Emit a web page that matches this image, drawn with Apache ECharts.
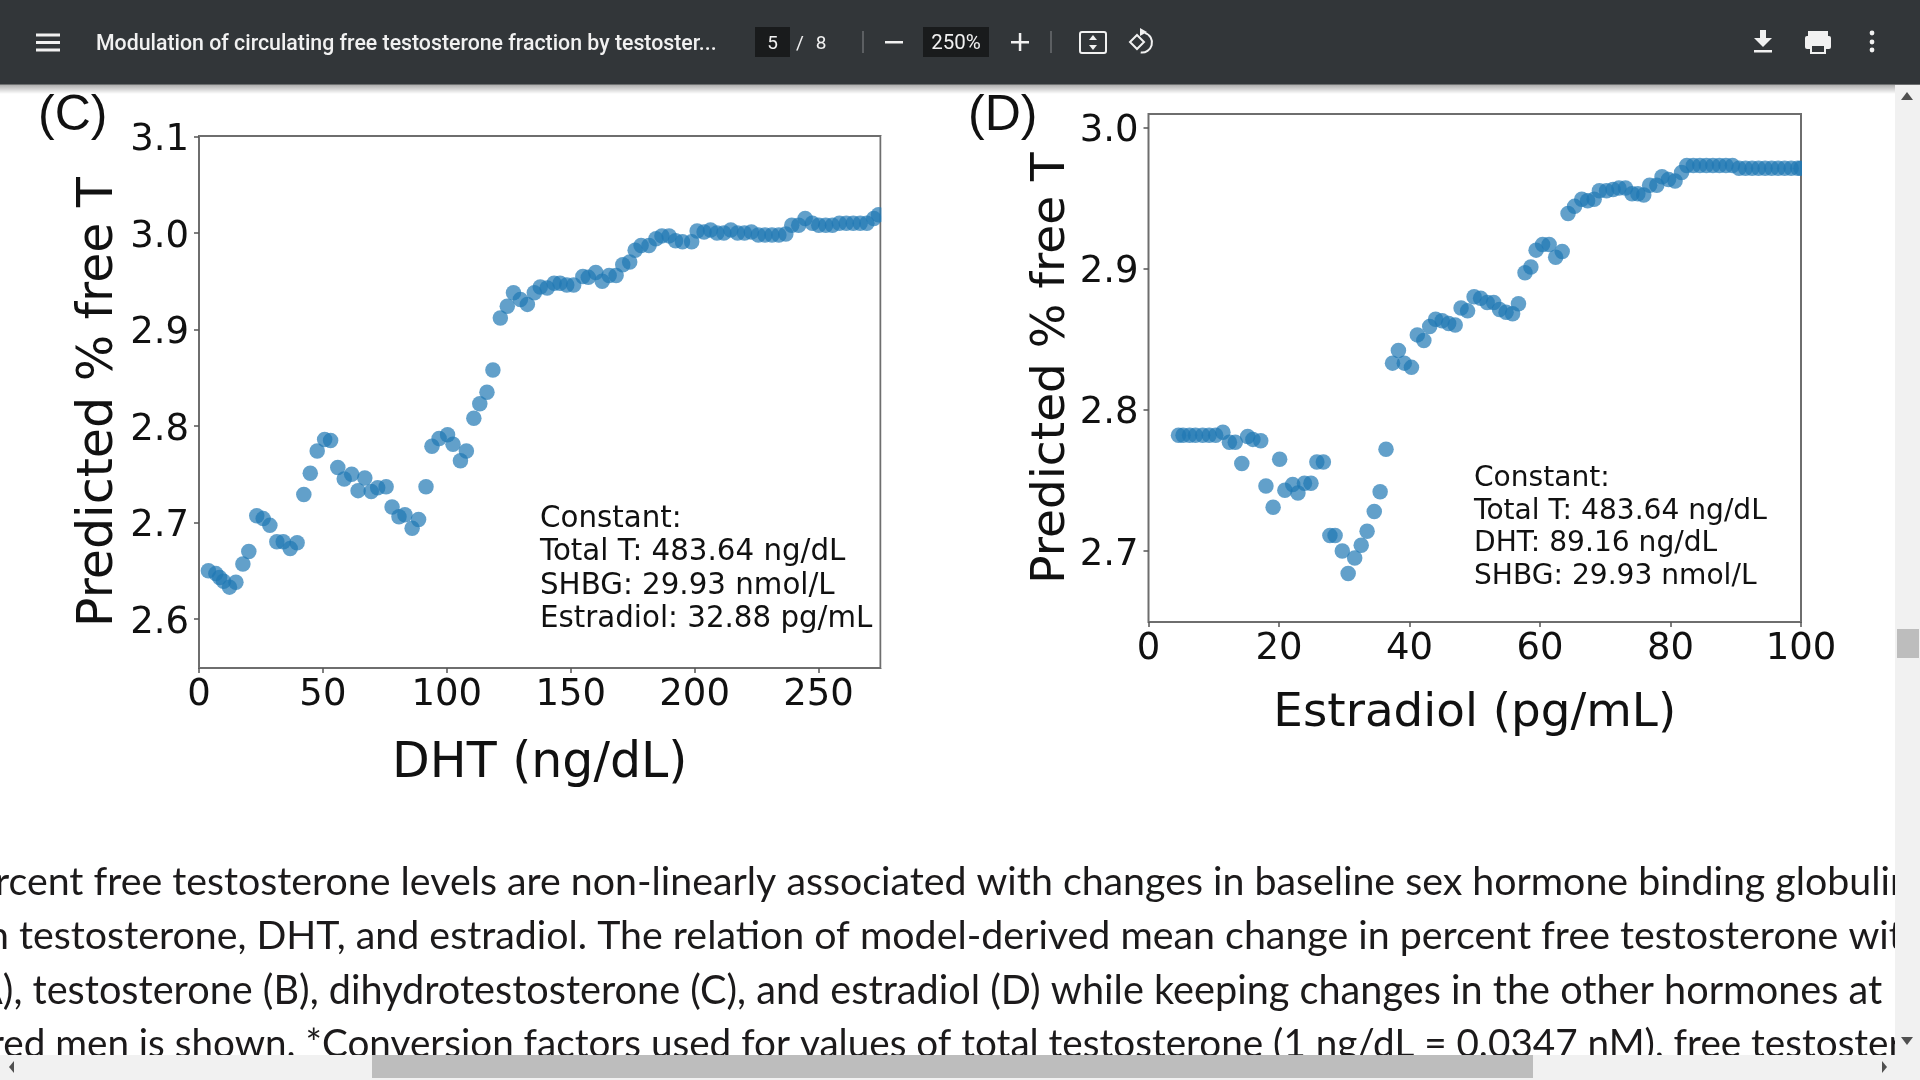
<!DOCTYPE html>
<html><head><meta charset="utf-8">
<style>html,body{margin:0;padding:0;background:#fff;overflow:hidden}#c{width:1920px;height:1080px}</style>
<script src="https://cdn.jsdelivr.net/npm/echarts@6/dist/echarts.min.js"></script>
</head><body><div id="c"></div>
<script>
// Panel C: DHT (ng/dL) vs predicted % free T
const dhtX = [3.8,6.8,8.3,9.9,12.3,14.9,17.7,20.1,23.3,25.9,28.6,31.4,34.0,36.8,39.6,42.3,44.9,47.7,50.7,53.1,56.0,58.6,61.6,64.2,66.9,69.5,72.1,75.5,77.9,80.7,83.1,86.0,88.6,91.6,94.0,96.9,100.3,102.5,105.5,107.9,110.9,113.3,116.2,118.6,121.6,124.4,126.9,129.7,132.5,135.3,137.7,140.5,143.3,145.7,148.4,151.2,154.9,157.1,160.1,162.7,165.5,168.3,171.0,173.8,176.0,178.4,181.6,184.4,186.8,189.7,192.3,195.1,198.8,201.0,203.8,206.4,209.0,211.8,214.6,217.3,220.1,222.9,225.7,228.4,231.2,234.0,236.8,239.2,242.0,244.6,247.5,250.1,252.9,255.6,258.4,261.2,264.0,266.8,269.5,272.3,274.2];
const dhtY = [2.650,2.647,2.643,2.639,2.633,2.638,2.657,2.670,2.707,2.704,2.697,2.680,2.680,2.673,2.679,2.729,2.751,2.774,2.786,2.785,2.757,2.745,2.750,2.733,2.746,2.732,2.736,2.737,2.716,2.706,2.708,2.694,2.703,2.737,2.779,2.787,2.791,2.781,2.764,2.774,2.808,2.823,2.835,2.858,2.912,2.924,2.938,2.931,2.926,2.938,2.944,2.943,2.948,2.948,2.946,2.946,2.955,2.954,2.959,2.950,2.956,2.956,2.967,2.970,2.982,2.987,2.987,2.994,2.997,2.997,2.992,2.991,2.991,3.002,3.001,3.003,3.000,3.000,3.003,3.000,3.000,3.001,2.998,2.998,2.998,2.998,2.999,3.008,3.008,3.015,3.010,3.008,3.008,3.008,3.010,3.010,3.010,3.010,3.010,3.015,3.019];
// Panel D: Estradiol (pg/mL) vs predicted % free T
const e2X = [4.6,5.3,6.3,7.2,8.3,9.3,10.3,11.4,12.4,13.3,14.3,15.2,16.0,17.2,18.0,19.1,20.1,20.9,22.1,22.9,23.9,24.9,25.8,26.8,27.8,28.6,29.7,30.6,31.6,32.6,33.5,34.6,35.5,36.4,37.4,38.3,39.2,40.3,41.2,42.2,43.1,44.0,45.0,46.0,47.0,47.9,48.9,49.9,50.9,51.9,52.9,53.8,54.8,55.8,56.7,57.7,58.6,59.4,60.4,61.4,62.4,63.4,64.3,65.3,66.4,67.3,68.3,69.1,70.2,71.2,72.1,73.1,74.1,75.0,75.9,76.8,77.9,78.7,79.7,80.7,81.7,82.5,83.5,84.5,85.5,86.5,87.5,88.5,89.5,90.5,91.5,92.5,93.5,94.5,95.5,96.5,97.5,98.5,99.5,100];
const e2Y = [2.782,2.782,2.782,2.782,2.782,2.782,2.782,2.784,2.777,2.777,2.762,2.781,2.779,2.778,2.746,2.731,2.765,2.743,2.747,2.741,2.748,2.748,2.763,2.763,2.711,2.711,2.700,2.684,2.695,2.704,2.714,2.728,2.742,2.772,2.833,2.842,2.833,2.830,2.853,2.849,2.859,2.864,2.863,2.861,2.860,2.872,2.870,2.880,2.879,2.876,2.876,2.871,2.869,2.868,2.875,2.897,2.901,2.913,2.917,2.917,2.908,2.912,2.939,2.944,2.949,2.948,2.949,2.955,2.955,2.956,2.957,2.957,2.953,2.953,2.952,2.959,2.959,2.965,2.963,2.962,2.968,2.973,2.973,2.973,2.973,2.973,2.973,2.973,2.973,2.971,2.971,2.971,2.971,2.971,2.971,2.971,2.971,2.971,2.971,2.971];
const ticksXC = [0,50,100,150,200,250];
const ticksYC = [2.6,2.7,2.8,2.9,3.0,3.1];
const ticksXD = [0,20,40,60,80,100];
const ticksYD = [2.7,2.8,2.9,3.0];
const noteC = ["Constant:","Total T: 483.64 ng/dL","SHBG: 29.93 nmol/L","Estradiol: 32.88 pg/mL"];
const noteD = ["Constant:","Total T: 483.64 ng/dL","DHT: 89.16 ng/dL","SHBG: 29.93 nmol/L"];
const bodyLines = [
 "rcent free testosterone levels are non-linearly associated with changes in baseline sex hormone binding globulin",
 "n testosterone, DHT, and estradiol. The relation of model-derived mean change in percent free testosterone with",
 "A), testosterone (B), dihydrotestosterone (C), and estradiol (D) while keeping changes in the other hormones at mean",
 "red men is shown. *Conversion factors used for values of total testosterone (1 ng/dL = 0.0347 nM), free testosterone"];
const docTitle = "Modulation of circulating free testosterone fraction by testoster...";

const FONT = '"DejaVu Sans"';
function xAxis(gi,max,ticks,name,gap,nameSize){return {type:'value',gridIndex:gi,min:0,max:max,name:name,nameLocation:'middle',nameGap:gap,
  nameTextStyle:{fontFamily:FONT,fontSize:nameSize,color:'#111'},
  axisLine:{show:false},splitLine:{show:false},
  axisTick:{show:true,length:5,customValues:ticks,lineStyle:{color:'#555',width:1.5}},
  axisLabel:{show:true,customValues:ticks,margin:8.5,fontFamily:FONT,fontSize:37,color:'#111',formatter:v=>String(v)}};}
function yAxis(gi,min,max,ticks,name,gap,nameSize){return {type:'value',gridIndex:gi,min:min,max:max,name:name,nameLocation:'middle',nameGap:gap,nameRotate:90,
  nameTextStyle:{fontFamily:FONT,fontSize:nameSize,color:'#111'},
  axisLine:{show:false},splitLine:{show:false},
  axisTick:{show:true,length:5,customValues:ticks,lineStyle:{color:'#555',width:1.5}},
  axisLabel:{show:true,customValues:ticks,margin:10,verticalAlign:'top',lineHeight:8,fontFamily:FONT,fontSize:37,color:'#111',formatter:v=>v.toFixed(1)}};}
function scatter(gi,xs,ys){return {type:'scatter',xAxisIndex:gi,yAxisIndex:gi,data:xs.map((x,i)=>[x,ys[i]]),symbolSize:15.5,clip:true,silent:true,
  itemStyle:{color:'#1f77b4',opacity:0.7},animation:false};}

const g=[];
function rect(x,y,w,h,fill,z,r){g.push({type:'rect',silent:true,z:z||10,shape:{x,y,width:w,height:h,r:r||0},style:{fill}});}
function txt(x,y,t,font,fill,align,z){g.push({type:'text',silent:true,z:z||12,x,y,style:{text:t,font,fill,align:align||'left',verticalAlign:'middle'}});}
function line(x1,y1,x2,y2,col,w,z){g.push({type:'line',silent:true,z:z||12,shape:{x1,y1,x2,y2},style:{stroke:col,lineWidth:w}});}
function poly(points,fill,z){g.push({type:'polygon',silent:true,z:z||12,shape:{points},style:{fill}});}

// dots stop at the plot frame
rect(881.5,136,12,532,'#fff',6);
rect(1802,114,12,508,'#fff',6);
// body text
const bodyX=[-5,-13,-24,-10], bodyFont=['39.3px Lato','39.35px Lato','39.65px Lato','38.65px Lato'];
bodyLines.forEach((t,i)=>txt(bodyX[i],[882,936,991,1045][i],t,bodyFont[i],'#1c1a1b','left',5));
// annotations and panel letters
noteC.forEach((t,i)=>txt(540,[519,552,586,619][i],t,'29.3px '+FONT,'#111','left',5));
noteD.forEach((t,i)=>txt(1474,[479,512,544,577][i],t,'28.1px '+FONT,'#111','left',5));
txt(38,116,'(C)','50px "Liberation Sans"','#111','left',5);
txt(968,116,'(D)','50px "Liberation Sans"','#111','left',5);
// toolbar
g.push({type:'rect',silent:true,z:9,shape:{x:0,y:84,width:1920,height:10},style:{fill:{type:'linear',x:0,y:0,x2:0,y2:1,colorStops:[{offset:0,color:'rgba(0,0,0,0.35)'},{offset:1,color:'rgba(0,0,0,0)'}]}}});
rect(0,0,1920,84.5,'#323639',10);
[35,42.5,50].forEach(y=>rect(36,y-1.5,24,3,'#f1f1f1',12));
txt(96,45,docTitle,'500 21.3px Roboto','#f1f1f1');
rect(755,27,35,30,'#191b1c',11);
txt(772.5,44,'5','19px Roboto','#f1f1f1','center');
txt(800,44,'/','19px Roboto','#f1f1f1','center');
txt(821,44,'8','19px Roboto','#f1f1f1','center');
line(863,31,863,53,'#6b6e70',1.5);
rect(885,41,18,2.5,'#f1f1f1',12);
rect(923,27,66,30,'#191b1c',11);
txt(956,44,'250%','20.5px Roboto','#f1f1f1','center');
rect(1011,41,18,2.5,'#f1f1f1',12);rect(1018.8,33,2.5,18,'#f1f1f1',12);
line(1051,31,1051,53,'#6b6e70',1.5);
g.push({type:'rect',silent:true,z:12,shape:{x:1080,y:32,width:26,height:21,r:2},style:{fill:'none',stroke:'#f1f1f1',lineWidth:2}});
poly([[1093,35],[1097,40],[1089,40]],'#f1f1f1');poly([[1093,50],[1097,45],[1089,45]],'#f1f1f1');
g.push({type:'arc',silent:true,z:12,shape:{cx:1142,cy:42.5,r:10,startAngle:-1.3,endAngle:1.7},style:{fill:'none',stroke:'#f1f1f1',lineWidth:2}});
g.push({type:'polygon',silent:true,z:12,shape:{points:[[1137,35],[1144,42],[1137,49],[1130,42]]},style:{fill:'none',stroke:'#f1f1f1',lineWidth:2}});
poly([[1140,28],[1147,32],[1140,36]],'#f1f1f1');
rect(1760,30,6,9,'#f1f1f1',12);poly([[1754,38],[1772,38],[1763,47]],'#f1f1f1');rect(1754,50,18,2.5,'#f1f1f1',12);
rect(1805,36,26,13,'#f1f1f1',12,2);rect(1808,31,20,5,'#f1f1f1',12);rect(1810,46,16,8,'#f1f1f1',12);rect(1812,46,12,6,'#323639',13);
[33,42,50].forEach(y=>g.push({type:'circle',silent:true,z:12,shape:{cx:1872,cy:y,r:2.4},style:{fill:'#f1f1f1'}}));
// scrollbars
rect(1895,85,25,970,'#f1f1f1',20);
rect(1897,629,22,29,'#bdbdbd',21);
poly([[1907,92],[1913,100],[1901,100]],'#505050',22);
poly([[1907,1045],[1913,1037],[1901,1037]],'#505050',22);
rect(0,1055,1920,25,'#f1f1f1',20);
rect(372,1055,1161,23,'#bdbdbd',21);
poly([[9,1067],[14,1061],[14,1073]],'#505050',22);
poly([[1887,1067],[1882,1061],[1882,1073]],'#505050',22);

const chart=echarts.init(document.getElementById('c'),null,{renderer:'canvas'});
chart.setOption({animation:false,backgroundColor:'#fff',
 grid:[{left:199,top:136,width:681.5,height:532,show:true,borderColor:'#6e6e6e',borderWidth:2,backgroundColor:'transparent'},
       {left:1148.5,top:114,width:652.5,height:508,show:true,borderColor:'#6e6e6e',borderWidth:2,backgroundColor:'transparent'}],
 xAxis:[xAxis(0,275,ticksXC,'DHT (ng/dL)',72,49),xAxis(1,100,ticksXD,'Estradiol (pg/mL)',68,46.8)],
 yAxis:[yAxis(0,2.5492,3.1005,ticksYC,'Predicted % free T',75,49),yAxis(1,2.6497,3.0094,ticksYD,'Predicted % free T',73,47)],
 series:[scatter(0,dhtX,dhtY),scatter(1,e2X,e2Y)],
 graphic:{elements:g}});
</script></body></html>
